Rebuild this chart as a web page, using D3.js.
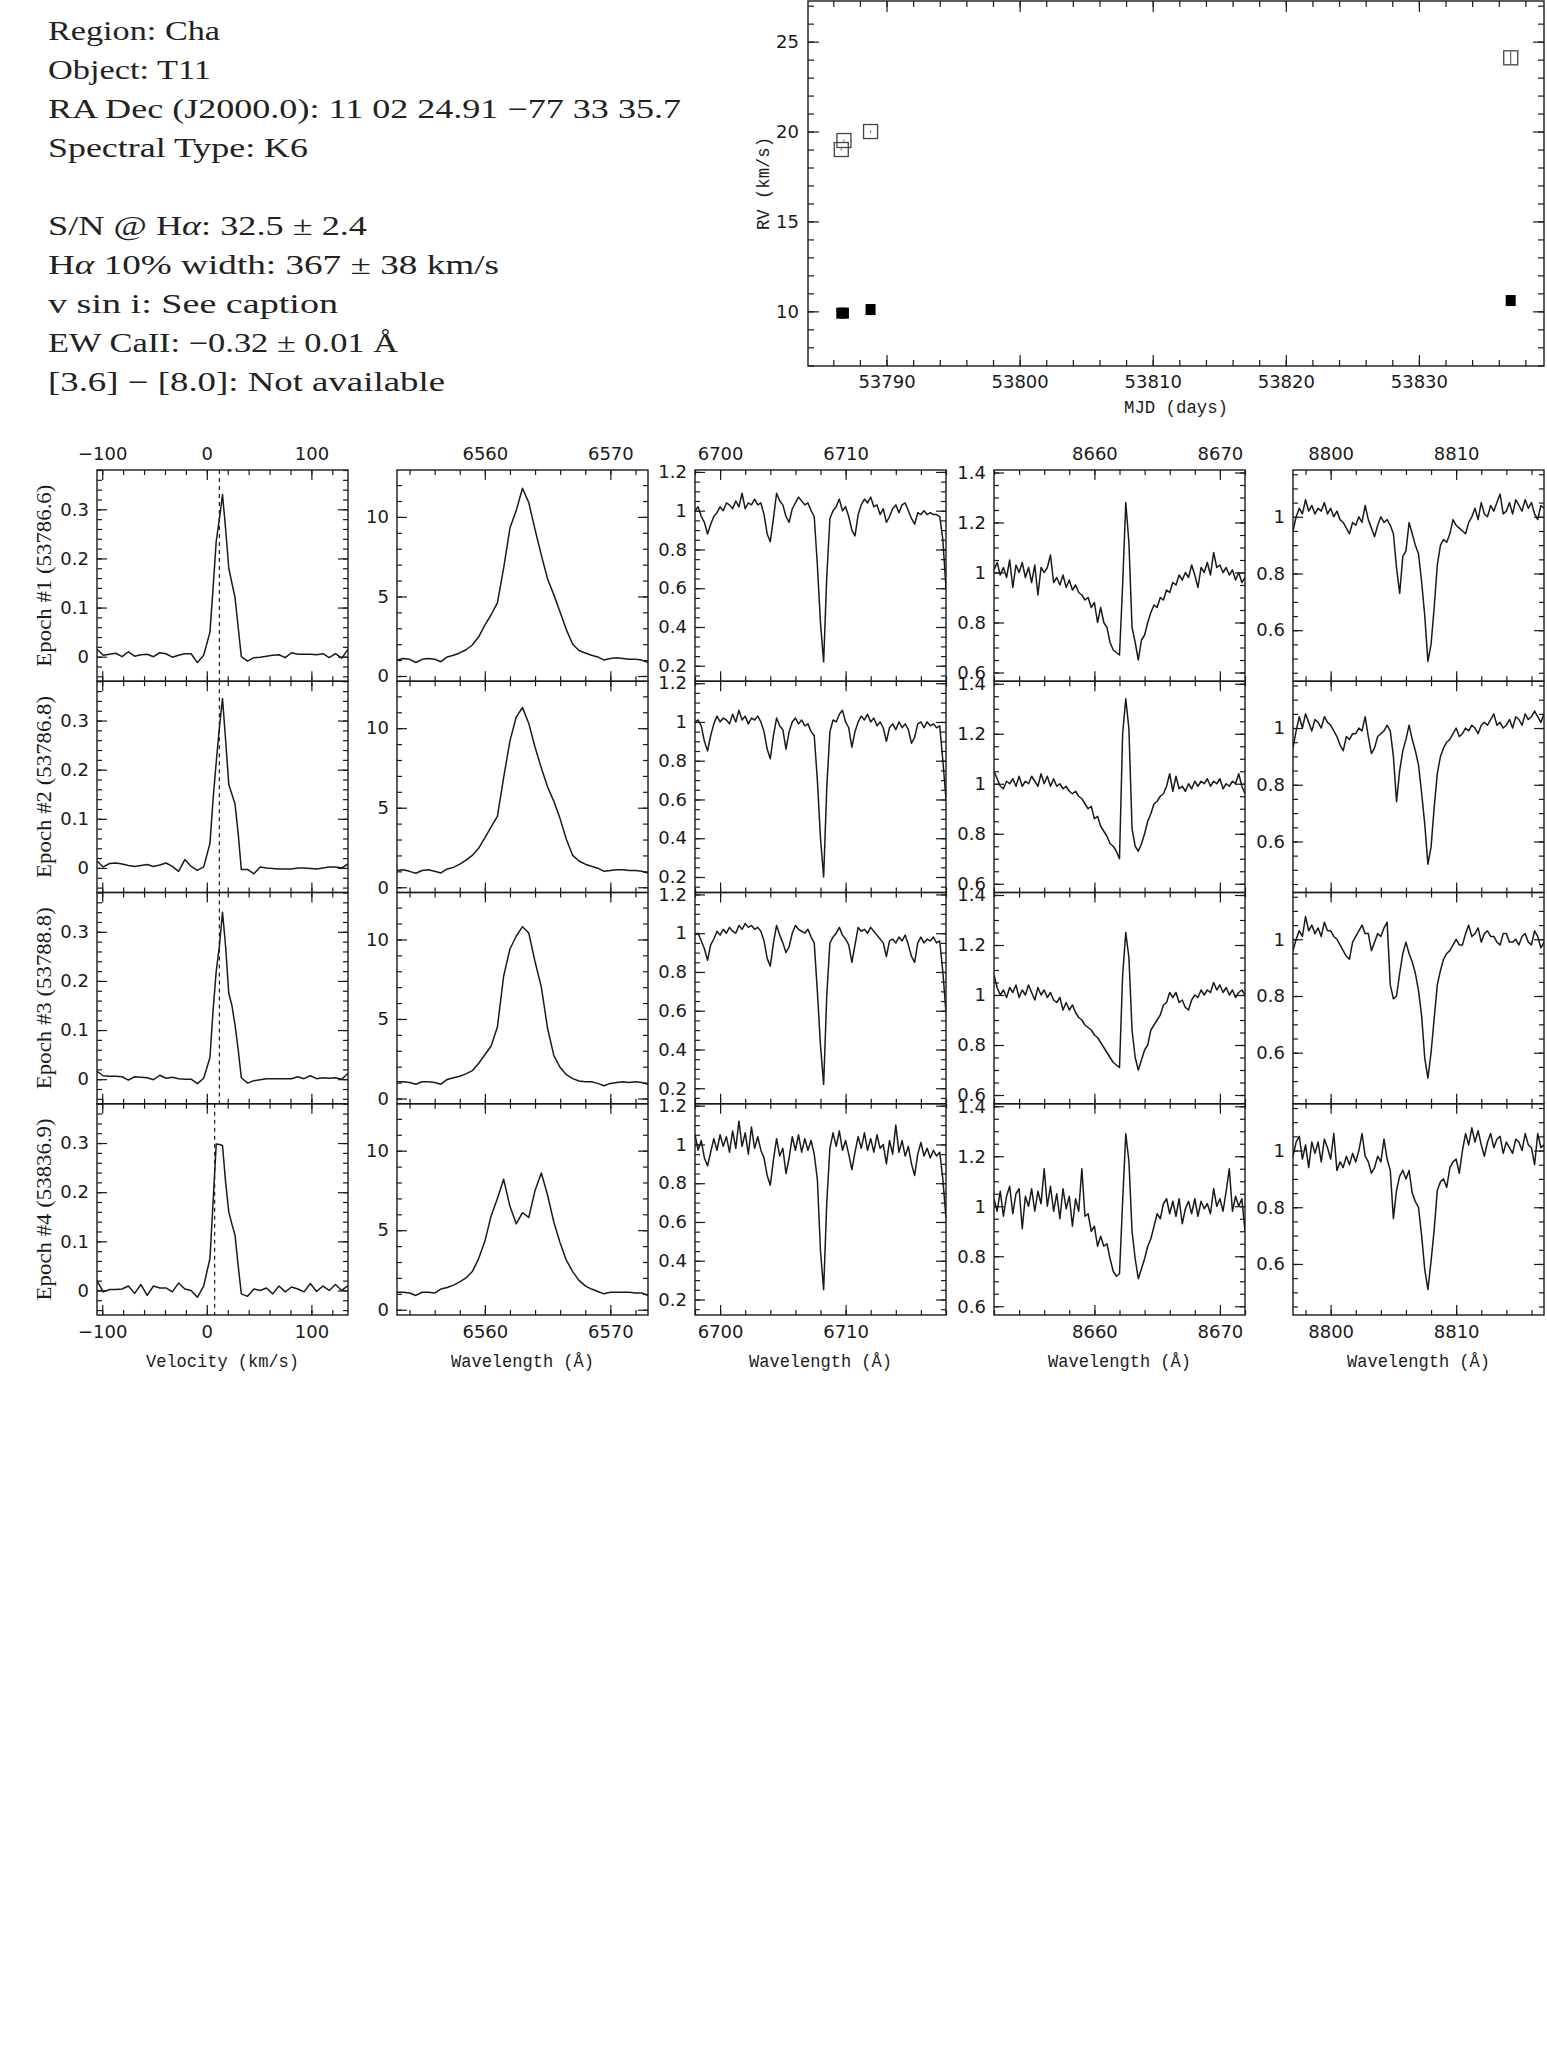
<!DOCTYPE html>
<html>
<head>
<meta charset="utf-8">
<script src="https://cdn.jsdelivr.net/npm/d3@7"></script>
<style>
  body { margin: 0; background: #fff; }
  svg { display: block; }
</style>
</head>
<body>
<svg id="fig" width="1547" height="2069"></svg>
<script>
// ---------------- data ----------------
const infoLines = [
  "Region: Cha",
  "Object: T11",
  "RA Dec (J2000.0): 11 02 24.91 \u221277 33 35.7",
  "Spectral Type: K6",
  "",
  "S/N @ H\u03b1: 32.5 \u00b1 2.4",
  "H\u03b1 10% width: 367 \u00b1 38 km/s",
  "v sin i: See caption",
  "EW CaII: \u22120.32 \u00b1 0.01 \u00c5",
  "[3.6] \u2212 [8.0]: Not available"
];

const epochLabels = ["Epoch #1 (53786.6)", "Epoch #2 (53786.8)", "Epoch #3 (53788.8)", "Epoch #4 (53836.9)"];
const epochMJD = [53786.6, 53786.8, 53788.8, 53836.9];
const rvOpen = [19.0, 19.5, 20.0, 24.1];
const rvOpenErr = [0.05, 0.05, 0.05, 0.35];
const rvFilled = [9.9, 9.9, 10.1, 10.6];

const rvXTicks = [53790, 53800, 53810, 53820, 53830];
const rvYTicks = [10, 15, 20, 25];

// cross-correlation functions
const ccfVelocity = [-105,-99,-93,-87,-81,-75,-69,-63,-57,-51,-45,-39,-33,-27,-21,-15,-9,-3,
  3,6,9,12,15,18,21,24,27,30,33,
  39,45,51,57,63,69,75,81,87,93,99,105,111,117,123,129,135];
const ccfFlux = [
  [0.015,0.003,0.005,0.007,0.000,0.010,0.001,0.004,0.005,0.000,0.008,0.006,-0.001,0.003,0.006,0.006,-0.012,0.003,
   0.05,0.14,0.235,0.28,0.33,0.26,0.18,0.15,0.12,0.06,0.0,
   -0.009,-0.002,-0.001,0.001,0.003,0.004,-0.002,0.008,0.005,0.005,0.005,0.004,0.006,-0.002,0.006,-0.003,0.015],
  [0.014,0.002,0.009,0.010,0.008,0.005,0.003,0.005,0.007,0.003,0.006,0.010,0.003,-0.007,0.017,0.003,-0.005,0.002,
   0.05,0.14,0.215,0.285,0.345,0.26,0.17,0.15,0.13,0.07,-0.003,
   -0.003,-0.012,0.002,0.0,-0.001,-0.002,-0.002,-0.002,0.0,0.0,-0.001,-0.002,0.0,0.002,0.002,0.0,0.008],
  [0.016,0.007,0.006,0.006,0.005,-0.002,0.005,0.004,0.003,-0.001,0.008,0.002,0.004,0.001,0.0,0.0,-0.009,0.002,
   0.044,0.14,0.22,0.27,0.34,0.27,0.175,0.15,0.11,0.06,0.003,
   -0.008,-0.003,-0.001,0.001,0.001,0.001,0.001,0.001,0.005,0.001,0.007,0.001,0.003,0.002,0.003,0.0,0.012],
  [0.02,-0.003,0.002,0.002,0.003,0.009,-0.006,0.012,-0.01,0.009,0.005,0.005,-0.003,0.015,0.003,0.0,-0.014,0.009,
   0.065,0.18,0.298,0.297,0.295,0.22,0.16,0.135,0.112,0.05,-0.007,
   -0.012,0.003,0.0,0.005,-0.007,0.009,-0.003,0.007,0.003,-0.003,0.014,-0.002,0.009,0.0,0.012,0.0,0.01]
];
const ccfCenter = [12, 12, 12, 7.5];

// H-alpha, 6553 A onwards every 0.5 A
const haStart = 6553, haStep = 0.5;
const haFlux = [
  [1.0,1.1,1.05,0.85,1.05,1.1,1.05,0.9,1.2,1.3,1.45,1.65,1.95,2.45,3.2,3.85,4.6,6.8,9.3,10.4,11.8,
   10.9,9.2,7.6,6.1,5.1,4.0,2.9,2.0,1.6,1.45,1.3,1.2,1.0,1.1,1.15,1.1,1.05,1.05,1.0,0.85],
  [1.05,1.1,1.0,0.88,1.05,1.1,1.0,0.9,1.15,1.25,1.45,1.7,2.0,2.45,3.1,3.8,4.45,6.9,9.2,10.7,11.3,
   10.3,8.8,7.5,6.3,5.4,4.3,3.0,2.0,1.65,1.45,1.32,1.2,1.0,1.05,1.1,1.1,1.05,1.05,1.0,0.9],
  [1.05,1.05,1.0,0.9,1.05,1.05,1.0,0.9,1.2,1.3,1.4,1.55,1.75,2.2,2.75,3.3,4.5,7.7,9.4,10.2,10.8,
   10.4,8.6,7.0,4.4,2.7,1.95,1.5,1.25,1.1,1.05,1.05,0.95,0.8,0.95,1.0,1.05,1.0,1.05,1.0,0.9],
  [1.1,1.1,1.05,0.9,1.1,1.1,1.05,1.3,1.4,1.55,1.75,2.0,2.4,3.2,4.3,5.9,7.0,8.2,6.5,5.4,6.1,
   5.8,7.5,8.6,7.2,5.5,4.2,3.1,2.4,1.85,1.5,1.3,1.15,1.0,1.1,1.1,1.1,1.1,1.05,1.05,0.9]
];

// Li I 6708 region, 6698 A onwards every 0.25 A
const liStart = 6698, liStep = 0.25;
const liFlux = [
  [1.00,1.02,0.97,0.94,0.88,0.93,0.97,0.99,1.02,1.00,1.04,1.03,1.01,1.05,1.02,1.09,1.01,1.04,1.03,1.06,
   1.03,1.04,0.98,0.88,0.84,0.96,1.09,1.05,1.03,0.97,0.94,1.01,1.04,1.07,1.05,1.03,1.04,1.00,0.97,0.72,
   0.42,0.22,0.66,0.96,1.00,1.02,1.06,1.00,1.02,0.97,0.90,0.87,0.98,1.03,1.06,1.04,1.07,1.02,1.03,0.98,
   1.01,0.94,0.97,1.01,1.03,0.99,1.03,1.04,1.00,0.96,0.93,0.99,0.98,1.00,0.98,0.99,0.98,0.98,0.97,0.85,0.60],
  [1.00,1.01,0.98,0.90,0.85,0.93,0.99,1.03,1.00,1.02,1.01,0.99,1.04,1.00,1.06,1.01,1.03,0.99,1.02,1.01,
   1.03,1.00,0.95,0.86,0.81,0.93,1.02,0.98,0.96,0.86,0.95,1.00,1.02,0.99,1.01,0.98,0.99,0.95,0.93,0.70,
   0.40,0.20,0.66,0.95,1.01,1.00,1.04,1.06,1.00,0.97,0.87,0.95,1.00,1.03,1.01,1.04,1.00,1.02,0.98,1.00,
   0.97,0.90,0.97,0.99,0.96,1.00,0.97,0.99,0.96,0.89,0.92,0.99,1.00,0.97,1.00,0.98,0.99,0.97,0.98,0.80,0.60],
  [0.99,1.00,0.96,0.92,0.86,0.94,0.97,1.01,0.99,1.02,1.00,1.03,1.01,1.00,1.04,1.02,1.05,1.03,1.04,1.02,
   1.03,1.01,0.96,0.87,0.83,0.95,1.04,0.99,0.95,0.90,0.93,1.00,1.04,1.02,1.01,1.00,1.02,0.98,0.95,0.70,
   0.42,0.22,0.68,0.95,0.98,1.00,1.03,0.99,0.97,0.94,0.85,0.94,1.03,1.01,1.02,1.00,1.03,1.01,0.99,0.97,
   0.95,0.88,0.96,0.97,0.95,0.98,0.96,0.99,0.94,0.88,0.85,0.95,0.98,0.95,0.97,0.96,0.98,0.95,0.96,0.80,0.59],
  [1.05,0.97,1.02,0.93,0.89,0.96,1.03,0.97,1.05,0.99,1.04,0.96,1.07,0.98,1.12,0.99,1.06,0.95,1.09,0.98,
   1.04,0.97,0.93,0.84,0.79,0.92,1.03,0.94,0.98,0.85,0.93,1.04,0.97,1.05,0.96,1.03,0.97,1.02,0.95,0.82,
   0.45,0.25,0.70,0.98,1.06,0.99,1.07,0.97,1.02,0.95,0.87,0.96,1.04,0.98,1.06,0.97,1.03,0.96,1.05,0.98,
   1.00,0.90,1.02,0.95,1.10,0.96,1.02,0.94,0.99,0.90,0.84,0.95,1.01,0.94,0.98,0.93,0.97,0.94,0.96,0.82,0.62]
];

// Ca II 8662 region, 8652 A onwards every 0.25 A
const caStart = 8652, caStep = 0.25;
const caFlux = [
  [1.01,1.04,0.99,1.02,0.98,1.05,0.94,1.03,1.00,1.04,0.98,1.02,0.96,1.03,0.91,1.02,1.00,1.02,1.07,0.96,
   0.98,0.95,0.99,0.94,0.97,0.93,0.95,0.92,0.91,0.89,0.90,0.86,0.88,0.80,0.86,0.80,0.78,0.72,0.69,0.68,
   0.67,0.95,1.28,1.12,0.78,0.72,0.65,0.73,0.75,0.80,0.84,0.87,0.86,0.90,0.89,0.93,0.92,0.96,0.95,0.99,
   0.97,1.00,0.98,1.03,0.99,0.94,1.02,1.00,1.04,0.99,1.08,1.02,1.03,1.00,1.02,0.99,1.01,0.97,1.00,0.96,0.98],
  [1.05,1.02,0.99,0.98,1.01,1.00,1.02,0.99,1.03,0.99,1.01,1.00,1.03,1.01,0.99,1.04,1.00,1.03,0.99,1.02,
   0.99,1.00,0.98,0.99,0.97,0.96,0.97,0.95,0.94,0.92,0.90,0.91,0.86,0.87,0.83,0.81,0.79,0.76,0.75,0.73,
   0.70,1.20,1.34,1.22,0.82,0.75,0.73,0.76,0.80,0.85,0.88,0.92,0.93,0.95,0.96,0.99,1.04,0.97,1.03,0.98,
   0.99,0.97,1.00,0.98,1.01,0.99,1.01,1.00,1.02,0.99,1.01,1.00,1.02,0.98,1.00,0.99,1.01,1.00,1.04,0.99,0.96],
  [1.08,1.03,1.00,1.02,0.99,1.03,1.01,1.04,0.99,1.02,1.00,1.04,1.01,0.98,1.03,1.00,1.02,0.99,1.01,0.98,
   0.97,0.99,0.94,0.97,0.94,0.96,0.93,0.91,0.90,0.88,0.87,0.86,0.84,0.83,0.81,0.79,0.77,0.75,0.73,0.72,
   0.71,1.08,1.25,1.15,0.86,0.75,0.70,0.74,0.78,0.80,0.86,0.88,0.90,0.92,0.96,0.97,1.01,0.99,1.01,0.97,
   0.98,0.95,0.94,0.98,1.00,0.99,1.02,1.00,1.02,1.01,1.05,1.02,1.04,1.01,1.03,1.00,1.02,0.99,1.01,1.02,1.00],
  [1.03,0.98,1.06,0.96,1.04,1.08,0.97,1.05,1.07,0.91,1.04,1.00,1.07,0.98,1.06,1.01,1.15,1.00,1.08,0.98,
   1.05,0.95,1.07,0.99,1.04,0.92,1.03,0.98,1.15,0.96,0.97,0.90,0.92,0.84,0.88,0.84,0.85,0.79,0.74,0.72,
   0.73,1.02,1.29,1.18,0.90,0.79,0.71,0.75,0.79,0.84,0.87,0.92,0.97,0.95,1.01,1.03,0.97,1.02,0.96,1.03,
   0.93,0.99,1.02,0.97,1.03,0.96,1.02,0.99,1.01,0.97,1.07,1.00,1.03,0.98,1.06,1.15,0.98,1.04,1.00,1.03,0.90]
];

// 8807 region, 8797 A onwards every 0.25 A
const feStart = 8797, feStep = 0.25;
const feFlux = [
  [0.95,1.00,1.03,1.01,1.06,1.02,1.04,1.01,1.03,1.02,1.05,1.01,1.03,1.00,1.02,0.99,0.98,0.96,0.94,0.98,
   0.97,1.00,0.98,1.04,0.99,0.96,0.93,0.97,1.00,0.98,0.99,0.97,0.94,0.82,0.73,0.86,0.88,0.98,0.94,0.90,
   0.87,0.77,0.65,0.49,0.55,0.68,0.83,0.90,0.92,0.91,0.94,0.99,0.97,0.96,0.95,0.94,0.98,1.00,1.03,0.99,
   1.05,1.01,1.00,1.04,1.02,1.05,1.08,1.01,1.02,1.05,1.01,1.06,1.04,1.02,1.06,1.03,1.05,1.01,0.99,1.04,1.03],
  [0.93,0.99,1.04,1.00,1.05,1.02,0.99,1.03,1.02,1.00,1.04,1.02,1.01,0.99,0.97,0.94,0.92,0.97,0.96,0.98,
   0.98,1.00,0.99,1.04,0.97,0.91,0.93,0.97,0.98,0.99,1.01,0.99,0.90,0.74,0.85,0.92,0.96,1.01,0.96,0.92,
   0.87,0.77,0.66,0.52,0.58,0.72,0.84,0.90,0.93,0.95,0.96,0.98,1.00,0.97,0.98,1.00,0.99,1.01,1.00,0.98,
   1.01,1.02,1.01,1.03,1.05,1.01,1.02,1.00,1.01,1.03,1.00,1.04,1.03,1.01,1.05,1.03,1.04,1.06,1.04,1.02,1.05],
  [0.96,1.00,1.03,1.01,1.08,1.03,1.05,1.02,1.04,1.01,1.06,1.03,1.03,1.01,1.00,0.98,0.96,0.94,0.93,0.99,
   1.01,1.03,1.05,1.02,1.02,0.96,0.99,1.02,1.01,1.04,1.06,0.84,0.79,0.80,0.88,0.95,0.99,0.95,0.92,0.88,
   0.82,0.73,0.58,0.51,0.60,0.72,0.84,0.89,0.93,0.95,0.96,0.98,1.00,0.98,0.98,1.02,1.05,1.01,1.02,1.04,
   0.99,1.02,1.03,1.01,1.01,0.99,0.98,1.02,1.02,0.99,0.99,1.00,0.98,1.01,1.02,0.99,0.98,1.03,1.01,0.97,0.99],
  [0.98,1.03,1.05,0.97,1.02,0.94,1.03,0.99,1.03,0.96,1.04,1.01,0.97,1.06,0.93,0.96,0.94,0.98,0.95,0.99,
   0.96,1.00,1.06,0.98,0.96,0.92,0.94,0.98,0.96,1.04,0.97,0.93,0.76,0.86,0.91,0.93,0.90,0.93,0.85,0.82,
   0.80,0.70,0.58,0.51,0.61,0.72,0.86,0.89,0.90,0.87,0.94,0.96,0.97,0.92,1.00,1.06,1.02,1.08,1.03,1.07,
   1.02,0.98,1.03,1.06,1.01,1.04,1.05,0.99,1.03,1.01,0.99,1.04,1.03,1.00,1.06,1.02,1.01,0.95,1.06,1.01,1.02]
];

// ---------------- layout ----------------
const svg = d3.select("#fig");
svg.append("rect").attr("width", 1547).attr("height", 2069).attr("fill", "#fff");

const ink = "#1a1a1a";
const tickFont = "DejaVu Sans";
const labelFont = "Liberation Mono";
const numFmt = d => (d < 0 ? "\u2212" : "") + Math.abs(+d.toFixed(3));

function minorValues(domain, step) {
  const out = [];
  const k0 = Math.ceil(domain[0] / step - 1e-9), k1 = Math.floor(domain[1] / step + 1e-9);
  for (let k = k0; k <= k1; k++) out.push(+(k * step).toFixed(4));
  return out;
}

function styleAxis(g, size) {
  g.select(".domain").remove();
  g.selectAll("line").attr("stroke", ink).attr("stroke-width", 1.2);
  g.attr("font-family", tickFont).attr("font-size", size).attr("fill", ink);
  g.selectAll("text").attr("fill", ink);
}

// ticks on all four sides, pointing inward
function frameAxes(g, x, y, w, h, o) {
  const big = o.major, small = o.minor;
  styleAxis(g.append("g")
    .call(d3.axisLeft(y).tickValues(o.yMajor).tickSize(-big).tickPadding(o.padY).tickFormat(numFmt)), o.fontSize);
  styleAxis(g.append("g").attr("transform", `translate(${w},0)`)
    .call(d3.axisRight(y).tickValues(o.yMajor).tickSize(-big).tickFormat("")), o.fontSize);
  styleAxis(g.append("g")
    .call(d3.axisTop(x).tickValues(o.xMajor).tickSize(-big).tickPadding(o.padX).tickFormat(o.showTop ? numFmt : "")), o.fontSize);
  styleAxis(g.append("g").attr("transform", `translate(0,${h})`)
    .call(d3.axisBottom(x).tickValues(o.xMajor).tickSize(-big).tickPadding(o.padX).tickFormat(o.showBottom ? numFmt : "")), o.fontSize);

  const yMin = minorValues(y.domain(), o.yMinor), xMin = minorValues(x.domain(), o.xMinor);
  styleAxis(g.append("g").call(d3.axisLeft(y).tickValues(yMin).tickSize(-small).tickFormat("")), o.fontSize);
  styleAxis(g.append("g").attr("transform", `translate(${w},0)`)
    .call(d3.axisRight(y).tickValues(yMin).tickSize(-small).tickFormat("")), o.fontSize);
  styleAxis(g.append("g").call(d3.axisTop(x).tickValues(xMin).tickSize(-small).tickFormat("")), o.fontSize);
  styleAxis(g.append("g").attr("transform", `translate(0,${h})`)
    .call(d3.axisBottom(x).tickValues(xMin).tickSize(-small).tickFormat("")), o.fontSize);

  g.append("rect").attr("width", w).attr("height", h)
    .attr("fill", "none").attr("stroke", ink).attr("stroke-width", 1.4);
}

function label(sel, txt, len) {
  return sel.attr("font-family", labelFont).attr("font-size", 19).attr("fill", ink)
    .attr("text-anchor", "middle").attr("textLength", len).attr("lengthAdjust", "spacingAndGlyphs")
    .text(txt);
}

// ---------------- info text ----------------
const infoWidths = [172, 163, 633, 260, 0, 319, 451, 290, 350, 397];
infoLines.forEach((s, i) => {
  if (!s) return;
  const t = svg.append("text")
    .attr("x", 48).attr("y", 40 + i * 39)
    .attr("font-family", "Liberation Serif").attr("font-size", 27).attr("fill", "#222")
    .attr("textLength", infoWidths[i]).attr("lengthAdjust", "spacingAndGlyphs");
  s.split(/(\u03b1)/).forEach(part => {
    if (!part) return;
    const sp = t.append("tspan").text(part);
    if (part === "\u03b1") sp.attr("font-style", "italic");
  });
});

// ---------------- RV plot ----------------
{
  const L = 808, T = 1, W = 736, H = 365;
  const g = svg.append("g").attr("transform", `translate(${L},${T})`);
  const x = d3.scaleLinear().domain([53784.1, 53839.4]).range([0, W]);
  const y = d3.scaleLinear().domain([6.96, 27.26]).range([H, 0]);

  frameAxes(g, x, y, W, H, {
    xMajor: rvXTicks, yMajor: rvYTicks, xMinor: 2, yMinor: 1,
    major: 11, minor: 6, padX: 9, padY: 9, fontSize: 18, showTop: false, showBottom: true
  });

  const pts = epochMJD.map((m, i) => ({ m, o: rvOpen[i], e: rvOpenErr[i], f: rvFilled[i] }));
  g.selectAll(".err").data(pts).join("line")
    .attr("x1", d => x(d.m)).attr("x2", d => x(d.m))
    .attr("y1", d => y(d.o - d.e)).attr("y2", d => y(d.o + d.e))
    .attr("stroke", "#444").attr("stroke-width", 1);
  g.selectAll(".open").data(pts).join("rect")
    .attr("x", d => x(d.m) - 7).attr("y", d => y(d.o) - 7)
    .attr("width", 14).attr("height", 14)
    .attr("fill", "none").attr("stroke", "#444").attr("stroke-width", 1.3);
  g.selectAll(".filled").data(pts).join("rect")
    .attr("x", d => x(d.m) - 5).attr("y", d => y(d.f) - 5.5)
    .attr("width", 10).attr("height", 11).attr("fill", "#000");

  label(svg.append("text").attr("x", L + W / 2).attr("y", 413), "MJD (days)", 104);
  label(svg.append("text").attr("transform", `translate(769,${T + H / 2}) rotate(-90)`), "RV (km/s)", 93);
}

// ---------------- spectra grid ----------------
const columns = [
  { xd: [-105, 135], yd: [-0.05, 0.38], xMajor: [-100, 0, 100], xMinor: 20, yMajor: [0, 0.1, 0.2, 0.3], yMinor: 0.02,
    series: i => ccfFlux[i].map((v, k) => [ccfVelocity[k], v]), xlabel: "Velocity (km/s)", xlabelLen: 153 },
  { xd: [6553, 6573], yd: [-0.33, 12.95], xMajor: [6560, 6570], xMinor: 2, yMajor: [0, 5, 10], yMinor: 1,
    series: i => haFlux[i].map((v, k) => [haStart + k * haStep, v]), xlabel: "Wavelength (\u00c5)", xlabelLen: 143 },
  { xd: [6698, 6718], yd: [0.12, 1.21], xMajor: [6700, 6710], xMinor: 2, yMajor: [0.2, 0.4, 0.6, 0.8, 1, 1.2], yMinor: 0.05,
    series: i => liFlux[i].map((v, k) => [liStart + k * liStep, v]), xlabel: "Wavelength (\u00c5)", xlabelLen: 143 },
  { xd: [8652, 8672], yd: [0.565, 1.41], xMajor: [8660, 8670], xMinor: 2, yMajor: [0.6, 0.8, 1, 1.2, 1.4], yMinor: 0.05,
    series: i => caFlux[i].map((v, k) => [caStart + k * caStep, v]), xlabel: "Wavelength (\u00c5)", xlabelLen: 143 },
  { xd: [8797, 8817], yd: [0.42, 1.165], xMajor: [8800, 8810], xMinor: 2, yMajor: [0.6, 0.8, 1], yMinor: 0.05,
    series: i => feFlux[i].map((v, k) => [feStart + k * feStep, v]), xlabel: "Wavelength (\u00c5)", xlabelLen: 143 }
];

const colLeft = [97, 397, 695, 994, 1293], PW = 251;
const rowTop0 = 470, PH = 211.25;
const defs = svg.append("defs");

columns.forEach((c, ci) => {
  const x = d3.scaleLinear().domain(c.xd).range([0, PW]);
  epochLabels.forEach((lab, ri) => {
    const top = rowTop0 + ri * PH;
    const g = svg.append("g").attr("transform", `translate(${colLeft[ci]},${top})`);
    const y = d3.scaleLinear().domain(c.yd).range([PH, 0]);
    const id = `clip-${ci}-${ri}`;
    defs.append("clipPath").attr("id", id).append("rect").attr("width", PW).attr("height", PH);

    const line = d3.line().x(d => x(d[0])).y(d => y(d[1]));
    g.append("path").attr("clip-path", `url(#${id})`)
      .attr("d", line(c.series(ri)))
      .attr("fill", "none").attr("stroke", ink).attr("stroke-width", 1.5).attr("stroke-linejoin", "round");

    if (ci === 0) {
      g.append("line")
        .attr("x1", x(ccfCenter[ri])).attr("x2", x(ccfCenter[ri]))
        .attr("y1", 0).attr("y2", PH)
        .attr("stroke", ink).attr("stroke-width", 1.2).attr("stroke-dasharray", "4,4");
      svg.append("text")
        .attr("transform", `translate(44,${top + PH / 2}) rotate(-90)`)
        .attr("text-anchor", "middle").attr("dy", "0.35em")
        .attr("font-family", "Liberation Serif").attr("font-size", 21).attr("fill", ink)
        .attr("textLength", 182).attr("lengthAdjust", "spacingAndGlyphs")
        .text(lab);
    }

    frameAxes(g, x, y, PW, PH, {
      xMajor: c.xMajor, yMajor: c.yMajor, xMinor: c.xMinor, yMinor: c.yMinor,
      major: 10, minor: 5, padX: 10, padY: 8, fontSize: 18,
      showTop: ri === 0, showBottom: ri === epochLabels.length - 1
    });
  });

  label(svg.append("text").attr("x", colLeft[ci] + PW / 2).attr("y", 1367), c.xlabel, c.xlabelLen);
});
</script>
</body>
</html>
